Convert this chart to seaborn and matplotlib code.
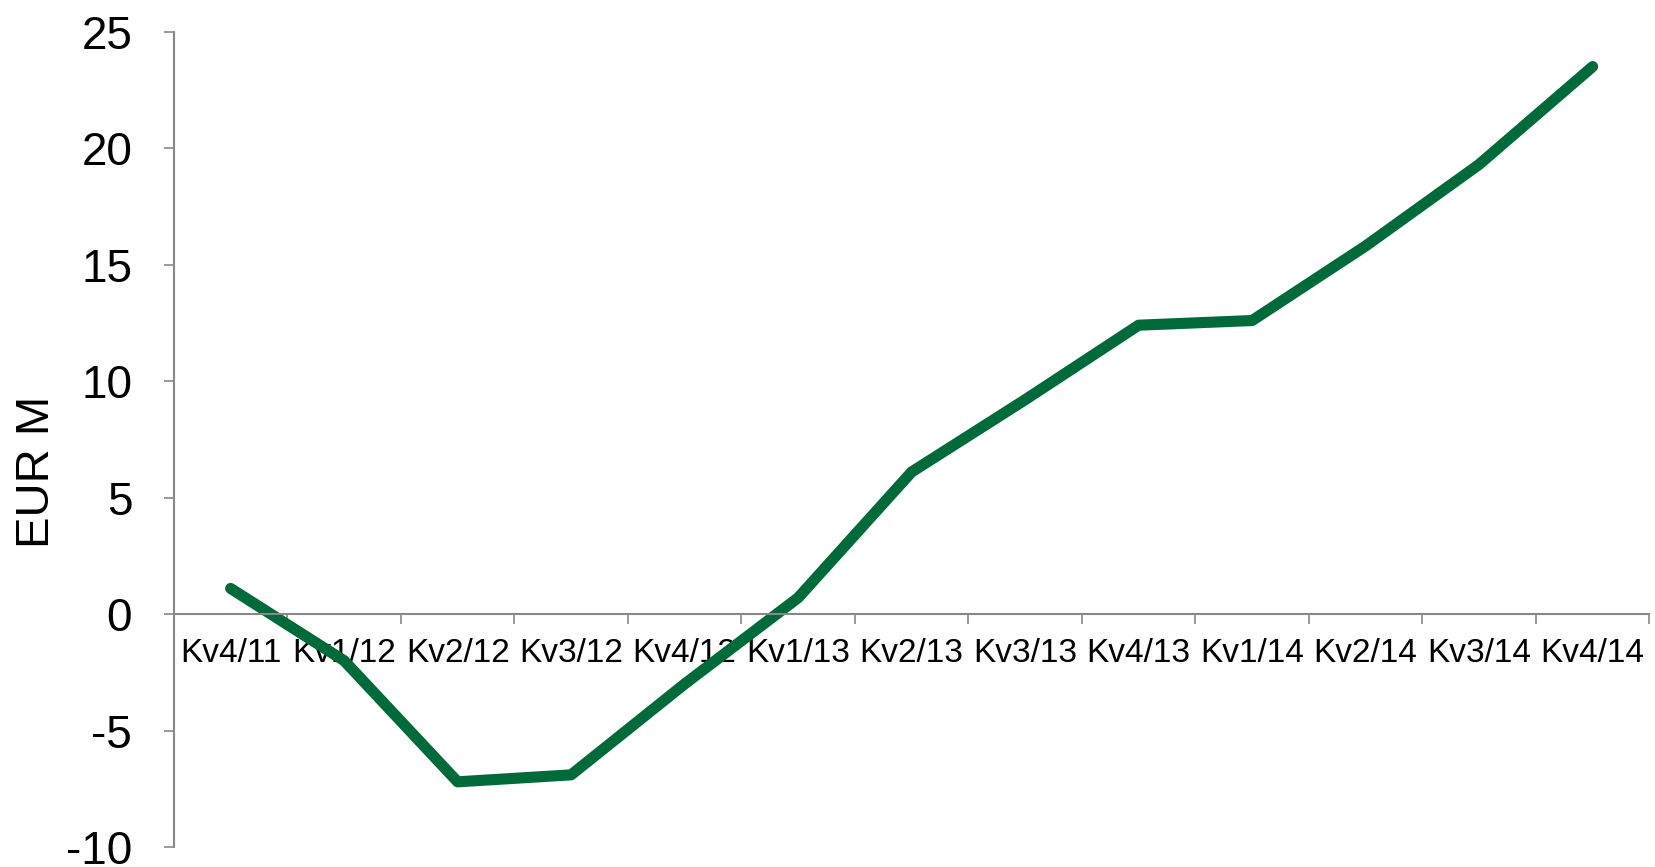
import numpy as np
import pandas as pd
import seaborn as sns
import matplotlib.pyplot as plt

# Data
quarters = ['Kv4/11', 'Kv1/12', 'Kv2/12', 'Kv3/12', 'Kv4/12', 'Kv1/13', 'Kv2/13',
            'Kv3/13', 'Kv4/13', 'Kv1/14', 'Kv2/14', 'Kv3/14', 'Kv4/14']
values = [1.1, -2.0, -7.2, -6.9, -3.0, 0.7, 6.1, 9.2, 12.4, 12.6, 15.8, 19.3, 23.5]
y_ticks = [-10, -5, 0, 5, 10, 15, 20, 25]

df = pd.DataFrame({'quarter': quarters, 'value': values})

sns.set_style('white')
plt.rcParams['font.family'] = ['Liberation Sans', 'DejaVu Sans']
plt.rcParams['text.color'] = 'black'
plt.rcParams['xtick.color'] = 'black'
plt.rcParams['ytick.color'] = 'black'
plt.rcParams['axes.labelcolor'] = 'black'

fig = plt.figure(figsize=(16.56, 8.67), dpi=100)
ax = fig.add_axes([0.105, 0.023, 0.891, 0.9405])

sns.lineplot(data=df, x='quarter', y='value', sort=False, color='#006a3b',
             linewidth=8, solid_capstyle='round', ax=ax)

ax.set_ylim(-10, 25)
ax.set_xlim(-0.5, len(quarters) - 0.5)
ax.set_yticks(y_ticks)
ax.set_yticklabels([str(t) for t in y_ticks])
ax.set_ylabel('EUR M', fontsize=34)
ax.yaxis.set_label_coords(-0.078, 0.46)
ax.set_xlabel('')

# category boundary ticks on the zero line, labels in between
n = len(quarters)
ax.set_xticks(np.arange(-0.5, n, 1.0))
ax.set_xticklabels([])
ax.set_xticks(np.arange(n), minor=True)
ax.set_xticklabels(quarters, minor=True)
ax.tick_params(axis='x', which='major', bottom=True, direction='out', length=7,
               width=1.2, color='#888888')
ax.tick_params(axis='x', which='minor', bottom=True, length=0, pad=17, labelsize=24)
ax.tick_params(axis='y', left=True, direction='out', length=7, width=1.2,
               color='#888888', labelcolor='black', pad=23, labelsize=33)

ax.spines['bottom'].set_position(('data', 0))
for s in ['top', 'right']:
    ax.spines[s].set_visible(False)
for s in ['left', 'bottom']:
    ax.spines[s].set_color('#888888')
    ax.spines[s].set_linewidth(1.5)

fig.savefig('out.png', dpi=100)
